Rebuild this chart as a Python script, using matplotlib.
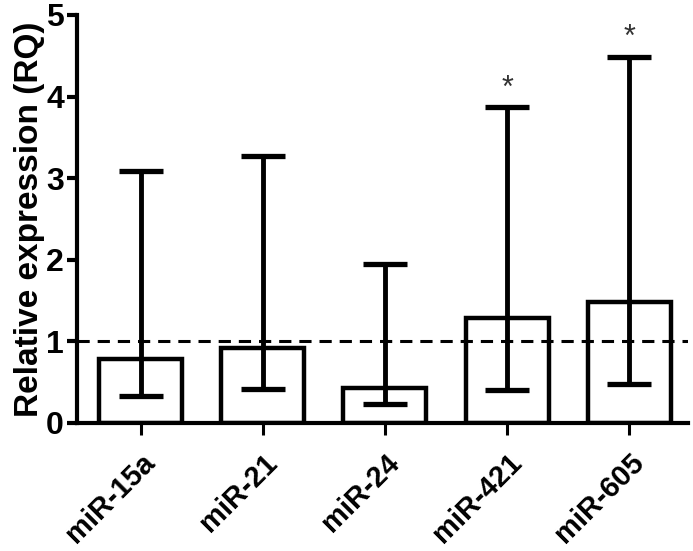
import matplotlib
matplotlib.use("Agg")
import matplotlib.pyplot as plt
import numpy as np

categories = ["miR-15a", "miR-21", "miR-24", "miR-421", "miR-605"]
means = [0.78, 0.91, 0.43, 1.28, 1.48]
lows = [0.33, 0.41, 0.23, 0.40, 0.475]
highs = [3.09, 3.27, 1.95, 3.87, 4.49]
significant = [False, False, False, True, True]
yticks = [0, 1, 2, 3, 4, 5]

plt.rcParams['font.family'] = ['Liberation Sans', 'DejaVu Sans']
plt.rcParams['font.weight'] = 'bold'

fig = plt.figure(figsize=(6.93, 5.51), dpi=100)
ax = fig.add_axes([77/693, 1-422.7/551, (688-77)/693, (422.7-15)/551])

x = np.arange(len(categories))
means_a = np.array(means)
yerr = [means_a - np.array(lows), np.array(highs) - means_a]

ax.bar(x, means, width=0.68, color='white', edgecolor='black', linewidth=3.2, zorder=2)
eb = ax.errorbar(x, means, yerr=yerr, fmt='none', ecolor='black', elinewidth=3.5,
                 capsize=16, capthick=3.8, zorder=3)
for c in eb[1]:
    c.set_solid_capstyle('round')
ax.axhline(1, color='black', linestyle=(0, (4, 2.6)), linewidth=2.2, zorder=4)

for xi, hi, s in zip(x, highs, significant):
    if s:
        ax.text(xi, hi + 0.04, '*', ha='center', va='bottom', fontsize=22,
                color='#333333', fontweight='normal')

ax.set_xlim(-0.52, 4.48)
ax.set_ylim(0, 5)
ax.set_yticks(yticks)
ax.set_yticklabels([str(t) for t in yticks], fontsize=23, fontweight='bold')
ax.set_xticks(x)
ax.set_xticklabels(categories, rotation=45, ha='right', rotation_mode='anchor',
                   fontsize=21, fontweight='bold')
ax.set_ylabel('Relative expression (RQ)', fontsize=24, fontweight='bold', labelpad=1)

for side in ['top', 'right']:
    ax.spines[side].set_visible(False)
for side in ['left', 'bottom']:
    ax.spines[side].set_linewidth(3.0)
ax.tick_params(axis='y', length=7.5, width=3.0, pad=2)
ax.tick_params(axis='x', length=8.5, width=2.2, pad=10)

fig.savefig('out.png', dpi=100)
